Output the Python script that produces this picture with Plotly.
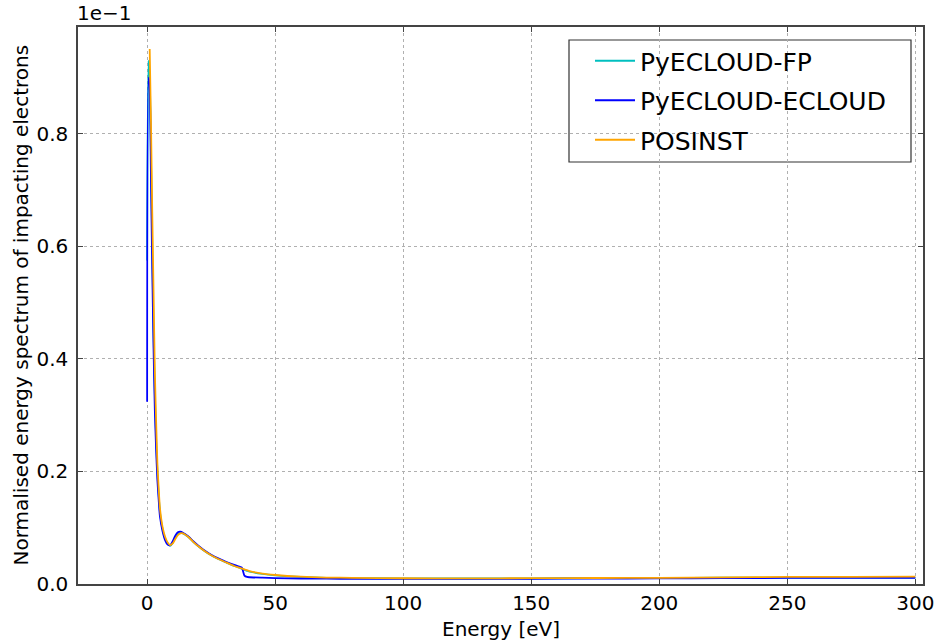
import plotly.graph_objects as go

# Energy grid [eV]
energy = [0, 0.5, 1, 1.5, 2, 2.5, 3, 3.5, 4, 4.5, 5, 6, 7, 8, 9, 10, 11, 12, 13, 14,
          16, 18, 20, 22, 25, 28, 31, 34, 36, 37, 38, 39, 40, 45, 50, 60, 70, 80,
          100, 125, 150, 175, 200, 225, 250, 275, 300]

# Normalised spectra, in units of 1e-1
fp = [0.575, 0.93, 0.90, 0.76, 0.60, 0.45, 0.34, 0.26, 0.20, 0.16, 0.128, 0.098, 0.081, 0.072, 0.068,
      0.073, 0.083, 0.089, 0.091, 0.090, 0.084, 0.075, 0.067, 0.060, 0.051, 0.044, 0.038, 0.032,
      0.029, 0.027, 0.025, 0.0235, 0.022, 0.018, 0.0155, 0.0125, 0.011, 0.0105,
      0.0100, 0.0098, 0.0100, 0.0104, 0.0108, 0.0112, 0.0115, 0.0115, 0.0115]
ecloud = [0.324, 0.90, 0.88, 0.72, 0.56, 0.42, 0.31, 0.24, 0.185, 0.15, 0.12, 0.094, 0.078, 0.070, 0.069,
          0.076, 0.086, 0.092, 0.093, 0.091, 0.085, 0.076, 0.068, 0.061, 0.052, 0.045, 0.039, 0.034,
          0.031, 0.029, 0.015, 0.0125, 0.012, 0.0112, 0.0105, 0.0098, 0.0094, 0.0092,
          0.0090, 0.0090, 0.0092, 0.0096, 0.0100, 0.0104, 0.0108, 0.0110, 0.0110]
posinst = [None, None, 0.951, 0.82, 0.66, 0.52, 0.38, 0.29, 0.215, 0.17, 0.135, 0.102, 0.084, 0.074, 0.069,
           0.072, 0.080, 0.087, 0.090, 0.090, 0.084, 0.075, 0.067, 0.060, 0.051, 0.044, 0.038, 0.032,
           0.029, 0.0275, 0.026, 0.0245, 0.023, 0.0185, 0.016, 0.013, 0.0115, 0.011,
           0.0102, 0.0100, 0.0103, 0.0107, 0.0110, 0.0118, 0.0125, 0.0128, 0.0130]

series_names = ["PyECLOUD-FP", "PyECLOUD-ECLOUD", "POSINST"]
series_values = [fp, ecloud, posinst]
series_colors = ["#00BFBF", "#0000FF", "#FFA500"]

x_ticks = [0, 50, 100, 150, 200, 250, 300]
y_ticks = [0.0, 0.2, 0.4, 0.6, 0.8]

FONT = "DejaVu Sans"
W, H = 938, 644
L, R, T, B = 78, 15, 27, 60
PW, PH = W - L - R, H - T - B

fig = go.Figure()
for i, (name, vals, col) in enumerate(zip(series_names, series_values, series_colors)):
    fig.add_trace(go.Scatter(x=energy, y=vals, mode="lines", name=name,
                             legendgroup=f"g{i}",
                             line=dict(color=col, width=1.8, shape="spline", smoothing=0.6)))

axis_common = dict(showline=True, linecolor="#444444", linewidth=1.5, mirror="allticks",
                   ticks="inside", ticklen=5, tickcolor="#444444", tickwidth=1,
                   showgrid=True, gridcolor="#b0b0b0", griddash="dot", gridwidth=1,
                   zeroline=False, automargin=False,
                   tickfont=dict(family=FONT, size=20, color="black"))

fig.update_xaxes(range=[-27, 303], tickvals=x_ticks, ticklabelstandoff=0, **axis_common)
fig.update_yaxes(range=[0, 0.99], tickvals=y_ticks, tickformat=".1f", ticklabelstandoff=4, **axis_common)

fig.add_annotation(text="Energy [eV]", xref="paper", yref="paper", x=0.5, y=0,
                   yshift=-45, xanchor="center", yanchor="middle", showarrow=False,
                   font=dict(family=FONT, size=20, color="black"))
fig.add_annotation(text="Normalised energy spectrum of impacting electrons", xref="paper", yref="paper",
                   x=0, y=0.5, xshift=-58, textangle=-90, xanchor="center", yanchor="middle",
                   showarrow=False, font=dict(family=FONT, size=20, color="black"))
fig.add_annotation(text="1e\u22121", xref="paper", yref="paper", x=0, y=1, xshift=-3,
                   xanchor="left", yanchor="bottom", showarrow=False,
                   font=dict(family=FONT, size=20, color="black"))

# legend frame (pixel box converted to paper coords)
bx0, bx1, by0, by1 = 569, 911, 40, 162
fig.add_shape(type="rect", xref="paper", yref="paper",
              x0=(bx0 - L) / PW, x1=(bx1 - L) / PW,
              y0=(H - B - by1) / PH, y1=(H - B - by0) / PH,
              line=dict(color="#333333", width=1.2), fillcolor="white", layer="below")

fig.update_layout(
    width=W, height=H,
    margin=dict(l=L, r=R, t=T, b=B),
    plot_bgcolor="white", paper_bgcolor="white",
    font=dict(family=FONT, color="black"),
    showlegend=True,
    legend=dict(x=(590 - L) / PW, y=(H - B - 38) / PH, xanchor="left", yanchor="top",
                bgcolor="rgba(0,0,0,0)", borderwidth=0,
                font=dict(family=FONT, size=25, color="black"),
                tracegroupgap=4, itemwidth=40),
)

fig.write_html("out.html")
